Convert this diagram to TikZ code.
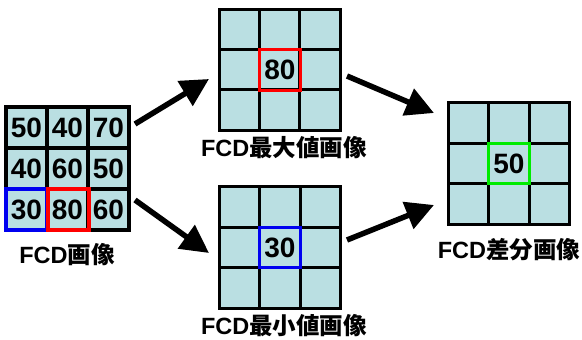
\documentclass[tikz,border=0pt]{standalone}
\usepackage{fontspec}
\setmainfont{Liberation Sans}
\newfontfamily\cjk{Noto Sans CJK JP}
\usetikzlibrary{arrows.meta}
\definecolor{cellfill}{RGB}{186,223,226}
\definecolor{hlred}{RGB}{255,0,0}
\definecolor{hlblue}{RGB}{0,0,240}
\definecolor{hlgreen}{RGB}{0,235,0}
\begin{document}
\begin{tikzpicture}[x=1pt,y=-1pt,
 cell/.style={draw=black,fill=cellfill,line width=3.3pt,minimum size=40.5pt,inner sep=0pt,outer sep=0pt},
 num/.style={font=\fontsize{28}{28}\selectfont\bfseries},
 lab/.style={font=\fontsize{23.5}{23.5}\selectfont\bfseries},
 hl/.style={line width=3.3pt},
 flow/.style={line width=5.5pt,-{Triangle[length=28pt,width=28pt]}}]
\useasboundingbox (0,0) rectangle (582,340);
% left grid
\foreach \r/\y in {1/127.5,2/168.5,3/209.5}
 \foreach \c/\x in {1/26.5,2/67.5,3/108.5}
  \node[cell,minimum size=41pt] (L\r\c) at (\x,\y) {};
\node[num] at (L11) {50};
\node[num] at (L12) {40};
\node[num] at (L13) {70};
\node[num] at (L21) {40};
\node[num] at (L22) {60};
\node[num] at (L23) {50};
\node[num] at (L31) {30};
\node[num] at (L32) {80};
\node[num] at (L33) {60};
\draw[hl,hlblue] (L31.south west) rectangle (L31.north east);
\draw[hl,hlred] ([xshift=1pt]L32.south west) rectangle ([xshift=1pt]L32.north east);
\node[lab] (Llab) at (67,255) {FCD{\cjk 画像}};
% top grid (max)
\foreach \r/\y in {1/30,2/70,3/110}
 \foreach \c/\x in {1/240,2/280,3/320}
  \node[cell] (T\r\c) at (\x,\y) {};
\node[num] at (T22) {80};
\draw[hl,hlred] (T22.south west) rectangle (T22.north east);
\node[lab] (Tlab) at (284,148) {FCD{\cjk 最大値画像}};
% bottom grid (min)
\foreach \r/\y in {1/207,2/247.5,3/288}
 \foreach \c/\x in {1/239.5,2/280,3/320.5}
  \node[cell] (B\r\c) at (\x,\y) {};
\node[num] at (B22) {30};
\draw[hl,hlblue] (B22.south west) rectangle (B22.north east);
\node[lab] (Blab) at (284,326) {FCD{\cjk 最小値画像}};
% right grid (diff)
\foreach \r/\y in {1/123,2/163.5,3/204}
 \foreach \c/\x in {1/468.5,2/509,3/549.5}
  \node[cell] (R\r\c) at (\x,\y) {};
\node[num] at (R22) {50};
\draw[hl,hlgreen] (R22.south west) rectangle (R22.north east);
\node[lab] (Rlab) at (509,250) {FCD{\cjk 差分画像}};
% arrows
\coordinate (a1s) at (135,124);
\coordinate (a1e) at (209,79);
\coordinate (a2s) at (135,200);
\coordinate (a2e) at (209,253);
\coordinate (a3s) at (347,76);
\coordinate (a3e) at (434,113);
\coordinate (a4s) at (347,240);
\coordinate (a4e) at (434,205);
\draw[flow] (a1s) -- (a1e);
\draw[flow] (a2s) -- (a2e);
\draw[flow] (a3s) -- (a3e);
\draw[flow] (a4s) -- (a4e);
\end{tikzpicture}
\end{document}
